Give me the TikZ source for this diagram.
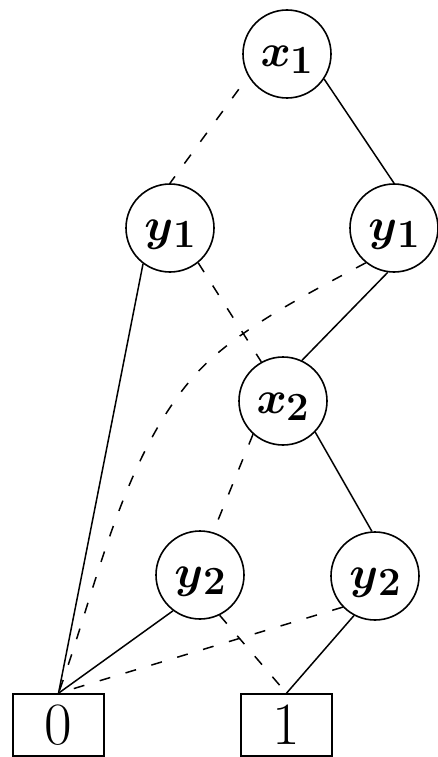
\documentclass[tikz,border=0pt]{standalone}
\newcommand{\vlabel}[2]{\scalebox{4.6}{\boldmath$#1$}\raisebox{-7pt}{\fontsize{40}{40}\selectfont\bfseries #2}}
\begin{document}
\begin{tikzpicture}[x=1pt,y=-1pt,
  var/.style={draw, circle, line width=1.6pt, minimum size=88pt, inner sep=0pt,
    text height=30pt, text depth=5pt},
  term/.style={draw, rectangle, line width=1.6pt, minimum width=91pt, minimum height=62pt,
    inner sep=0pt, font=\fontsize{60}{60}\selectfont},
  hiedge/.style={line width=1.5pt},
  loedge/.style={line width=1.5pt, dash pattern=on 11pt off 16pt},
]
\useasboundingbox (0,0) rectangle (438,757);

% decision nodes
\node[var] (x1)  at (287,54)  {\vlabel{x}{1}};
\node[var] (y1a) at (170,228) {\vlabel{y}{1}};
\node[var] (y1b) at (394,228) {\vlabel{y}{1}};
\node[var] (x2)  at (283,401) {\vlabel{x}{2}};
\node[var] (y2a) at (200,575) {\vlabel{y}{2}};
\node[var] (y2b) at (375,576) {\vlabel{y}{2}};

% terminals
\node[term] (t0) at (58.5,725)  {0};
\node[term] (t1) at (286.5,725) {1};

% edges
\draw[loedge, dash phase=11pt] (x1.210) -- (y1a.north);
\draw[hiedge] (x1.326) -- (y1b.north);
\draw[hiedge] (y1a.233) -- (t0.north);
\draw[loedge] (y1a.309) -- (x2.119);
\draw[loedge] (y1b.231) .. controls (311,292) and (235,330) .. (195,375)
                        .. controls (122,457) and (96,589) .. (t0.north);
\draw[hiedge] (y1b.262) -- (x2.65);
\draw[loedge] (x2.228) -- (y2a.73);
\draw[hiedge] (x2.316) -- (y2b.94);
\draw[hiedge] (y2a.233) -- (t0.north);
\draw[loedge] (y2a.296) -- (t1.north);
\draw[loedge] (y2b.224) -- (t0.north);
\draw[hiedge] (y2b.242) -- (t1.north);
\end{tikzpicture}
\end{document}
